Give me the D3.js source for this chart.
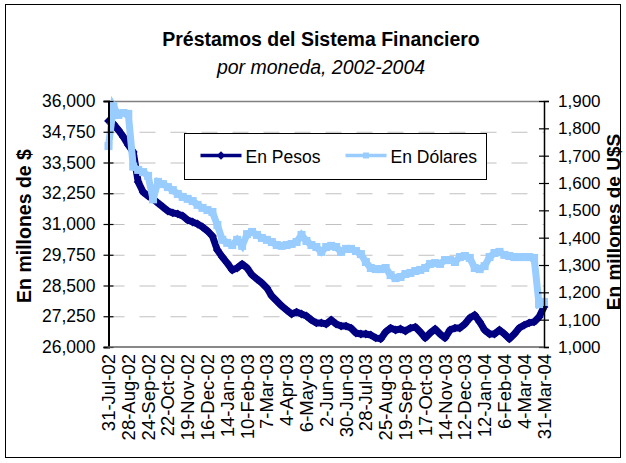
<!DOCTYPE html>
<html>
<head>
<meta charset="utf-8">
<script src="https://cdn.jsdelivr.net/npm/d3@7"></script>
<style>
  body { margin: 0; background: #fff; }
  svg text { font-family: "Liberation Sans", Arial, sans-serif; fill: #000; }
</style>
</head>
<body>
<div id="chart"></div>
<script>
// tick labels on the category axis (one every 4 samples)
const TICK_DATES = ["31-Jul-02", "28-Aug-02", "24-Sep-02", "22-Oct-02", "19-Nov-02", "16-Dec-02",
    "14-Jan-03", "10-Feb-03", "7-Mar-03", "4-Apr-03", "6-May-03", "2-Jun-03", "30-Jun-03",
    "28-Jul-03", "25-Aug-03", "19-Sep-03", "17-Oct-03", "14-Nov-03", "12-Dec-03",
    "12-Jan-04", "6-Feb-04", "4-Mar-04", "31-Mar-04"];
const SAMPLES_PER_TICK = 4;

// millones de $ (left axis)
const PESOS = [35190, 35065, 34820, 34540, 34210, 33930, 32710, 32300, 32140, 32020,
    31850, 31690, 31530, 31450, 31410, 31330, 31160, 31080, 31000, 30880,
    30720, 30510, 29940, 29660, 29410, 29130, 29210, 29370, 29210, 28930,
    28760, 28600, 28400, 28070, 27870, 27670, 27500, 27340, 27420, 27340,
    27260, 27100, 26980, 26980, 26935, 27100, 26935, 26850, 26850, 26770,
    26570, 26530, 26530, 26490, 26370, 26330, 26610, 26770, 26690, 26730,
    26650, 26770, 26810, 26610, 26370, 26570, 26730, 26530, 26370, 26690,
    26770, 26770, 26935, 27180, 27300, 27020, 26690, 26530, 26530, 26690,
    26530, 26330, 26530, 26770, 26890, 26980, 27020, 27220, 27630];

// millones de U$S (right axis)
const DOLARES = [1735, 1880, 1849, 1856, 1853, 1660, 1648, 1640, 1626, 1540,
    1604, 1596, 1585, 1574, 1560, 1549, 1542, 1534, 1520, 1509,
    1501, 1494, 1446, 1392, 1381, 1373, 1392, 1370, 1413, 1421,
    1410, 1399, 1392, 1384, 1373, 1370, 1373, 1377, 1384, 1410,
    1388, 1373, 1366, 1348, 1366, 1370, 1366, 1348, 1359, 1359,
    1351, 1340, 1311, 1289, 1285, 1285, 1289, 1263, 1252, 1256,
    1267, 1271, 1278, 1282, 1289, 1304, 1307, 1304, 1318, 1318,
    1311, 1329, 1333, 1326, 1289, 1285, 1296, 1329, 1344, 1348,
    1337, 1333, 1329, 1329, 1329, 1329, 1326, 1157, 1165];

const LEFT_DOMAIN = [26000, 36000];
const LEFT_STEP = 1250;
const RIGHT_DOMAIN = [1000, 1900];
const RIGHT_STEP = 100;

const SERIES_NAMES = ["En Pesos", "En Dólares"];

/* ---------------------------------- */
const W = 626, H = 463;
const PLOT = {left: 108.5, right: 544, top: 101, bottom: 347};
const C_PESOS = "#000080", C_DOL = "#99CCFF";

var svg = d3.select("#chart").append("svg")
            .attr("width", W)
            .attr("height", H);

// outer frame
svg.append("rect")
   .attr("x", 5.5).attr("y", 4.5)
   .attr("width", 615).attr("height", 453)
   .attr("fill", "#fff")
   .attr("stroke", "#000");

var x = d3.scaleLinear()
          .domain([0, PESOS.length - 1])
          .range([PLOT.left, PLOT.right]);
var yL = d3.scaleLinear().domain(LEFT_DOMAIN).range([PLOT.bottom, PLOT.top]);
var yR = d3.scaleLinear().domain(RIGHT_DOMAIN).range([PLOT.bottom, PLOT.top]);

var leftTicks = d3.range(LEFT_DOMAIN[0], LEFT_DOMAIN[1] + 1, LEFT_STEP);
var rightTicks = d3.range(RIGHT_DOMAIN[0], RIGHT_DOMAIN[1] + 1, RIGHT_STEP);

// gridlines
svg.append("g")
   .selectAll("line")
   .data(leftTicks.slice(1, -1))
   .enter()
   .append("line")
   .attr("x1", PLOT.left).attr("x2", PLOT.right)
   .attr("y1", (d) => yL(d) + 0.5).attr("y2", (d) => yL(d) + 0.5)
   .attr("stroke", "#c0c0c0")
   .attr("stroke-dasharray", "16,15");

// top border of plot area
svg.append("line")
   .attr("x1", PLOT.left).attr("x2", PLOT.right)
   .attr("y1", PLOT.top + 0.5).attr("y2", PLOT.top + 0.5)
   .attr("stroke", "#808080").attr("stroke-width", 1.5);

// series
var line = (sc) => d3.line().x((d, i) => x(i)).y((d) => sc(d));

svg.append("path")
   .datum(PESOS)
   .attr("d", line(yL))
   .attr("fill", "none")
   .attr("stroke", C_PESOS)
   .attr("stroke-width", 7)
   .attr("stroke-linejoin", "round");
svg.append("g")
   .selectAll("path")
   .data(PESOS)
   .enter()
   .append("path")
   .attr("d", d3.symbol(d3.symbolDiamond2, 50))
   .attr("transform", (d, i) => "translate(" + x(i) + "," + yL(d) + ")")
   .attr("fill", C_PESOS);

svg.append("path")
   .datum(DOLARES)
   .attr("d", line(yR))
   .attr("fill", "none")
   .attr("stroke", C_DOL)
   .attr("stroke-width", 7)
   .attr("stroke-linejoin", "miter");
svg.append("g")
   .selectAll("rect")
   .data(DOLARES)
   .enter()
   .append("rect")
   .attr("x", (d, i) => x(i) - 4)
   .attr("y", (d) => yR(d) - 4)
   .attr("width", 8).attr("height", 8)
   .attr("fill", C_DOL);

// left axis
var axL = svg.append("g")
             .attr("transform", "translate(" + PLOT.left + ",0)")
             .call(d3.axisLeft(yL).tickValues(leftTicks).tickFormat(d3.format(",")).tickSize(5).tickPadding(8));
axL.select(".domain").attr("stroke", "#000").attr("stroke-width", 2);
axL.selectAll(".tick line").attr("x1", 5).attr("stroke-width", 1.2);
axL.selectAll("text").style("font-size", "17.5px").attr("font-family", null);

// right axis
var axR = svg.append("g")
             .attr("transform", "translate(" + PLOT.right + ",0)")
             .call(d3.axisRight(yR).tickValues(rightTicks).tickFormat(d3.format(",")).tickSize(5).tickPadding(9));
axR.select(".domain").attr("stroke", "#000").attr("stroke-width", 1.5);
axR.selectAll(".tick line").attr("x1", -5).attr("stroke-width", 1.2);
axR.selectAll("text").style("font-size", "17px").attr("font-family", null);

// bottom (category) axis
svg.append("line")
   .attr("x1", PLOT.left - 1).attr("x2", PLOT.right)
   .attr("y1", PLOT.bottom).attr("y2", PLOT.bottom)
   .attr("stroke", "#606060").attr("stroke-width", 1.5);
svg.append("g")
   .selectAll("text")
   .data(TICK_DATES)
   .enter()
   .append("text")
   .attr("text-anchor", "end")
   .attr("transform", (d, i) => "translate(" + (x(i * SAMPLES_PER_TICK) + 6.5) + ",354) rotate(-90)")
   .style("font-size", "18.5px")
   .text((d) => d);

// title
svg.append("text")
   .attr("x", 321).attr("y", 46)
   .attr("text-anchor", "middle")
   .style("font-size", "19.5px").style("font-weight", "bold")
   .text("Préstamos del Sistema Financiero");
svg.append("text")
   .attr("x", 321).attr("y", 74)
   .attr("text-anchor", "middle")
   .style("font-size", "19.5px").style("font-style", "italic")
   .text("por moneda, 2002-2004");

// axis titles
svg.append("text")
   .attr("transform", "translate(31,226) rotate(-90)")
   .attr("text-anchor", "middle")
   .style("font-size", "19.5px").style("font-weight", "bold")
   .text("En millones de $");
svg.append("text")
   .attr("transform", "translate(619.5,222) rotate(-90)")
   .attr("text-anchor", "middle")
   .style("font-size", "19px").style("font-weight", "bold")
   .text("En millones de U$S");

// legend
var lg = svg.append("g").attr("transform", "translate(184.5,133.5)");
lg.append("rect")
  .attr("width", 302).attr("height", 46)
  .attr("fill", "#fff").attr("stroke", "#000");
var items = lg.selectAll("g.item")
              .data(SERIES_NAMES)
              .enter()
              .append("g")
              .classed("item", true)
              .attr("transform", (d, i) => "translate(" + (i === 0 ? 16 : 161) + ",22)");
items.append("line")
     .attr("x1", 0).attr("x2", 41)
     .attr("stroke", (d, i) => (i === 0 ? C_PESOS : C_DOL))
     .attr("stroke-width", 3.5);
items.append("path")
     .attr("transform", "translate(20.5,0)")
     .attr("d", (d, i) => d3.symbol(i === 0 ? d3.symbolDiamond2 : d3.symbolSquare2, 45)())
     .attr("fill", (d, i) => (i === 0 ? C_PESOS : C_DOL));
items.append("text")
     .attr("x", 45).attr("y", 7)
     .style("font-size", "17.5px")
     .text((d) => d);
</script>
</body>
</html>
